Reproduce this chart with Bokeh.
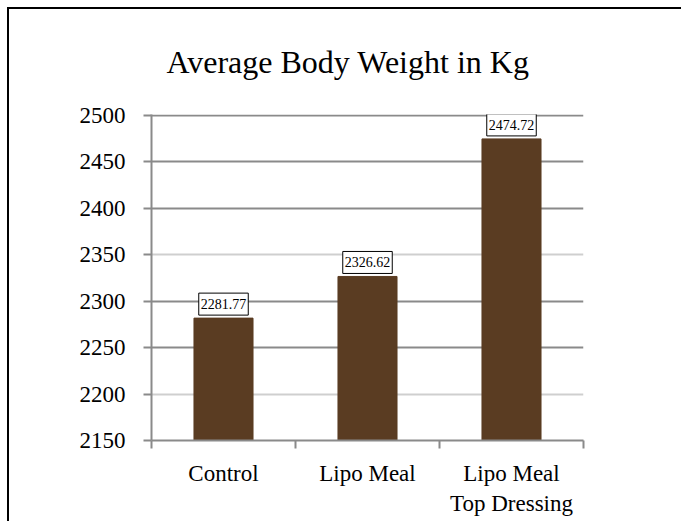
from bokeh.plotting import figure
from bokeh.models import ColumnDataSource, FixedTicker, Range1d, Grid
from bokeh.core.properties import value
from bokeh.embed import file_html
from bokeh.resources import INLINE

categories = ["Control", "Lipo Meal", "Lipo Meal\nTop Dressing"]
values = [2281.77, 2326.62, 2474.72]
value_labels = ["2281.77", "2326.62", "2474.72"]
y_ticks = [2150, 2200, 2250, 2300, 2350, 2400, 2450, 2500]
y_ticks_dark = [2150, 2250, 2300, 2400, 2450, 2500]
y_ticks_light = [2200, 2350]

xc = [i + 0.5 for i in range(len(categories))]
bounds = [i for i in range(len(categories) + 1)]
y_min, y_max = 2150, 2501

src = ColumnDataSource(dict(x=xc, top=values, lab=value_labels))

FONT = "Liberation Serif"
GRAY = "#8a8a8a"

p = figure(width=672, height=512, output_backend="svg", toolbar_location=None,
           x_range=Range1d(0, len(categories)), y_range=Range1d(y_min, y_max),
           frame_width=432, frame_height=326,
           min_border_left=142, min_border_top=105, min_border_right=98, min_border_bottom=81,
           title="Average Body Weight in Kg")
p.styles = {"border-left": "2px solid black", "border-top": "2px solid black",
            "margin-left": "7px", "margin-top": "7px"}
p.outline_line_color = None
p.background_fill_color = "white"
p.border_fill_color = "white"

p.title.text_font = FONT
p.title.text_font_size = "32px"
p.title.text_font_style = "normal"
p.title.text_color = "black"
p.title.align = "left"
p.title.vertical_align = "top"
p.title.standoff = 66
p.title.offset = 15

p.vbar(x="x", top="top", bottom=y_min, width=0.41, source=src,
       fill_color="#5A3C22", line_color="#5A3C22")

p.text(x="x", y="top", text="lab", source=src, y_offset=-3,
       text_align="center", text_baseline="bottom",
       text_font=value(FONT), text_font_size="14px", text_color="black",
       background_fill_color="white", border_line_color="black",
       border_line_width=1, padding=dict(x=2, y=6))

# grids
p.xgrid.visible = False
p.ygrid.ticker = FixedTicker(ticks=y_ticks_dark)
p.ygrid.grid_line_color = GRAY
p.ygrid.grid_line_width = 2
light = Grid(dimension=1, ticker=FixedTicker(ticks=y_ticks_light),
             grid_line_color="#cfcfcf", grid_line_width=2)
p.add_layout(light)

# y axis
ya = p.yaxis[0]
ya.ticker = FixedTicker(ticks=y_ticks)
ya.axis_line_color = GRAY
ya.axis_line_width = 2
ya.major_tick_line_color = GRAY
ya.major_tick_line_width = 2
ya.major_tick_out = 8
ya.major_tick_in = 0
ya.minor_tick_line_color = None
ya.major_label_text_font = FONT
ya.major_label_text_font_size = "23px"
ya.major_label_text_color = "black"
ya.major_label_standoff = 18

# x axis
xa = p.xaxis[0]
xa.ticker = FixedTicker(ticks=xc, minor_ticks=bounds)
xa.major_label_overrides = {x: c for x, c in zip(xc, categories)}
xa.axis_line_color = GRAY
xa.axis_line_width = 2
xa.major_tick_line_color = None
xa.major_tick_out = 0
xa.major_tick_in = 0
xa.minor_tick_line_color = GRAY
xa.minor_tick_line_width = 2
xa.minor_tick_out = 8
xa.minor_tick_in = 0
xa.major_label_text_font = FONT
xa.major_label_text_font_size = "23px"
xa.major_label_text_color = "black"
xa.major_label_standoff = 12

open("out.html", "w").write(file_html(p, INLINE))
